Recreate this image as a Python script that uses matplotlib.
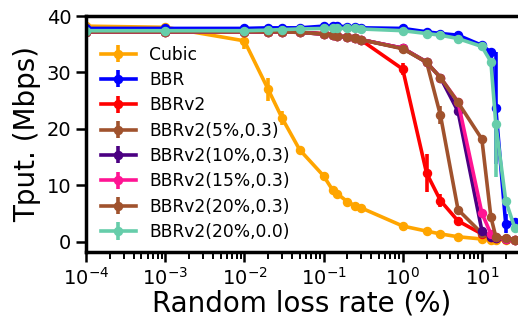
import numpy as np
import matplotlib
matplotlib.use('Agg')
import matplotlib.pyplot as plt

# loss rate (%) and mean throughput (Mbps)
loss = [1e-4, 1e-3, 1e-2, 0.02, 0.03, 0.05, 0.1, 0.13, 0.15, 0.2, 0.25, 0.3,
        1, 2, 3, 5, 10, 13, 15, 20, 26]

cubic = [38.2, 38.0, 35.6, 27.0, 21.9, 16.3, 11.7, 9.2, 8.5, 7.1, 6.4, 6.0,
         2.8, 1.9, 1.4, 0.9, 0.5, 0.4, 0.35, 0.3, 0.25]
bbr = [37.8, 37.8, 37.8, 37.9, 37.9, 37.9, 38.2, 38.2, 38.2, 38.1, 38.0, 37.9,
       37.8, 37.2, 36.9, 36.6, 34.8, 33.6, 23.7, 3.2, 3.6]
bbrv2 = [37.2, 37.2, 37.2, 37.2, 37.2, 37.1, 36.9, 36.7, 36.5, 36.3, 36.1, 35.7,
         30.6, 12.2, 7.3, 3.7, 1.4, 0.9, 0.7, 0.5, 0.4]
v2_5 = [37.2, 37.2, 37.2, 37.2, 37.2, 37.1, 36.8, 36.6, 36.4, 36.3, 36.1, 35.8,
        34.3, 31.9, 22.4, 5.7, 1.5, 0.8, 0.7, 0.5, 0.4]
v2_10 = [37.2, 37.2, 37.2, 37.2, 37.2, 37.1, 36.8, 36.6, 36.4, 36.3, 36.1, 35.8,
         34.3, 31.8, 29.1, 23.1, 2.0, 0.8, 0.7, 0.5, 0.4]
v2_15 = [37.2, 37.2, 37.2, 37.2, 37.2, 37.1, 36.8, 36.6, 36.4, 36.3, 36.1, 35.8,
         34.3, 31.8, 29.1, 24.8, 5.1, 1.4, 0.8, 0.5, 0.4]
v2_20 = [37.2, 37.2, 37.2, 37.2, 37.2, 37.1, 36.8, 36.6, 36.4, 36.3, 36.1, 35.8,
         34.2, 31.8, 29.1, 24.7, 18.2, 4.4, 0.9, 0.6, 0.4]
v2_20_0 = [37.4, 37.4, 37.4, 37.5, 37.6, 37.7, 37.8, 37.8, 37.8, 37.8, 37.8, 37.7,
           37.4, 36.9, 36.6, 36.0, 34.6, 31.9, 20.9, 7.3, 2.5]

# error bars (lower, upper)
cubic_err = [0.2, 0.2, 1.5, 2.0, 1.2, 0.5, 0.5, 0.4, 0.4, 0.3, 0.3, 0.3,
             0.2, 0.2, 0.2, 0.1, 0.1, 0.1, 0.1, 0.1, 0.1]
bbr_err = [0.2, 0.2, 0.2, 0.2, 0.2, 0.2, 0.2, 0.2, 0.2, 0.2, 0.2, 0.2,
           0.2, 0.2, 0.2, 0.3, 0.4, 0.5, 10.0, 1.7, 0.5]
bbrv2_err = [0.2, 0.2, 0.2, 0.2, 0.2, 0.2, 0.2, 0.2, 0.2, 0.2, 0.2, 0.3,
             1.0, 3.3, 1.2, 0.4, 0.2, 0.1, 0.1, 0.1, 0.1]
v2_5_err = [0.2, 0.2, 0.2, 0.2, 0.2, 0.2, 0.2, 0.2, 0.2, 0.2, 0.2, 0.2,
            0.2, 0.3, 1.6, 0.4, 0.2, 0.1, 0.1, 0.1, 0.1]
v2_small_err = [0.2] * 15 + [0.4, 0.3, 0.2, 0.1, 0.1, 0.1]
v2_20_0_lo = [0.2] * 17 + [0.5, 9.5, 0.5, 0.3]
v2_20_0_hi = [0.2] * 17 + [0.5, 0.7, 0.5, 0.3]

labels = ['Cubic', 'BBR', 'BBRv2', 'BBRv2(5%,0.3)', 'BBRv2(10%,0.3)',
          'BBRv2(15%,0.3)', 'BBRv2(20%,0.3)', 'BBRv2(20%,0.0)']
colors = ['orange', 'blue', 'red', 'sienna', 'indigo', 'deeppink', 'sienna',
          'mediumaquamarine']
series = [cubic, bbr, bbrv2, v2_5, v2_10, v2_15, v2_20, v2_20_0]
errs = [cubic_err, bbr_err, bbrv2_err, v2_5_err, v2_small_err, v2_small_err,
        v2_small_err, [v2_20_0_lo, v2_20_0_hi]]

fig = plt.figure(figsize=(5.18, 3.2), dpi=100)
ax = fig.add_axes([86 / 518, 1 - 252 / 320, 1 - 86 / 518, (252 - 16) / 320])

for y, e, c, lab in zip(series, errs, colors, labels):
    ax.errorbar(loss, y, yerr=e, color=c, marker='o', ms=5.8, lw=2.6,
                elinewidth=2.6, capsize=0, label=lab)

ax.set_xscale('log')
ax.set_xlim(1e-4, 28.6)
ax.set_ylim(-1.8, 40)
ax.set_yticks([0, 10, 20, 30, 40])

for s in ['left', 'bottom', 'top']:
    ax.spines[s].set_linewidth(2.5)
    ax.spines[s].set_color('black')
ax.spines['right'].set_visible(False)
ax.tick_params(axis='both', which='major', labelsize=14, width=1.8, length=7)
ax.tick_params(axis='x', which='minor', width=1.4, length=5)

ax.set_xlabel('Random loss rate (%)', fontsize=20, labelpad=1)
ax.set_ylabel('Tput. (Mbps)', fontsize=20, labelpad=4)

ax.legend(loc='upper left', bbox_to_anchor=(0, 0.94), frameon=False,
          fontsize=12.3, labelspacing=0.43)

fig.savefig('out.png', dpi=100)
